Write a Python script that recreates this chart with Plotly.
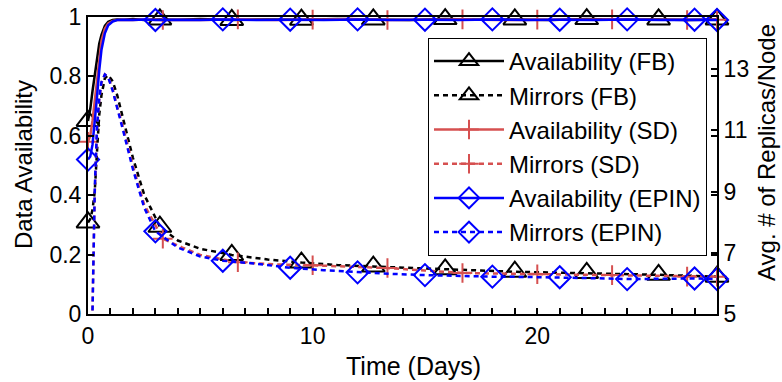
import plotly.graph_objects as go

# ---------------- data ----------------
t_fb = [0, 0.1, 0.2, 0.3, 0.4, 0.5, 0.6, 0.75, 0.9, 1.1, 1.3, 1.6, 2.0, 2.5, 3.2, 4.0,
        5.0, 6.4, 8.0, 9.5, 11.1, 12.7, 14.3, 15.9, 17.5, 19.0, 20.6, 22.2, 23.8, 25.4, 26.7, 28.0]
avail_fb = [0.65, 0.69, 0.75, 0.81, 0.87, 0.91, 0.94, 0.97, 0.984, 0.99, 0.992, 0.991, 0.993, 0.99,
            0.992, 0.991, 0.993, 0.99, 0.992, 0.991, 0.993, 0.992, 0.99, 0.993, 0.991, 0.992,
            0.99, 0.993, 0.991, 0.992, 0.99, 0.992]
mirrors_fb = [7.99, 8.1, 8.4, 9.0, 10.3, 11.5, 12.15, 12.7, 12.8, 12.6, 12.15, 11.3, 10.1, 8.9,
              7.85, 7.4, 7.13, 6.93, 6.78, 6.68, 6.6, 6.55, 6.5, 6.46, 6.42, 6.38, 6.36, 6.34,
              6.31, 6.28, 6.25, 6.22]
mark_fb = [0, 3.2, 6.4, 9.5, 12.7, 15.9, 19.0, 22.2, 25.4, 28.0]

t_sd = [0, 0.1, 0.2, 0.3, 0.4, 0.5, 0.6, 0.75, 0.9, 1.1, 1.3, 1.6, 2.0, 2.5, 3.33, 4.2, 5.0,
        6.67, 8.33, 10.0, 11.67, 13.33, 15.0, 16.67, 18.33, 20.0, 21.67, 23.33, 25.0, 26.67, 28.0]
avail_sd = [0.58, 0.60, 0.65, 0.72, 0.80, 0.87, 0.92, 0.96, 0.978, 0.987, 0.99, 0.991, 0.99,
            0.992, 0.99, 0.991, 0.99, 0.992, 0.99, 0.991, 0.993, 0.99, 0.991, 0.992, 0.99,
            0.991, 0.99, 0.992, 0.991, 0.99, 0.991]
mirrors_sd = [1.0, 3.0, 5.2, 8.9, 11.0, 12.0, 12.55, 12.82, 12.73, 12.34, 11.76, 10.99, 9.83,
              8.57, 7.46, 7.17, 6.93, 6.69, 6.62, 6.59, 6.54, 6.5, 6.42, 6.34, 6.32, 6.3, 6.28,
              6.27, 6.24, 6.22, 6.22]
mark_sd = [0, 3.33, 6.67, 10.0, 13.33, 16.67, 20.0, 23.33, 26.67, 28.0]

t_epin = [0, 0.1, 0.2, 0.3, 0.4, 0.5, 0.6, 0.75, 0.9, 1.1, 1.3, 1.6, 2.0, 2.5, 3.0, 4.0, 5.0,
          6.0, 7.5, 9.0, 10.5, 12.0, 13.5, 15.0, 16.5, 18.0, 19.5, 21.0, 22.5, 24.0, 25.5,
          27.0, 28.0]
avail_epin = [0.52, 0.53, 0.57, 0.64, 0.73, 0.82, 0.89, 0.945, 0.972, 0.985, 0.99, 0.991, 0.99,
              0.992, 0.99, 0.991, 0.99, 0.992, 0.99, 0.991, 0.99, 0.992, 0.99, 0.991, 0.99,
              0.992, 0.99, 0.991, 0.99, 0.992, 0.99, 0.991, 0.99]
mirrors_epin = [1.0, 3.0, 5.0, 9.06, 11.08, 12.05, 12.58, 12.82, 12.73, 12.29, 11.76, 10.89,
                9.73, 8.48, 7.7, 7.17, 6.88, 6.74, 6.64, 6.51, 6.43, 6.36, 6.31, 6.27, 6.24,
                6.22, 6.21, 6.2, 6.17, 6.14, 6.15, 6.16, 6.14]
mark_epin = [0, 3.0, 6.0, 9.0, 12.0, 15.0, 18.0, 21.0, 24.0, 27.0, 28.0]

x_title = "Time (Days)"
y_title = "Data Availability"
y2_title = "Avg. # of Replicas/Node"

# ---------------- styling ----------------
FONT = "Liberation Sans, Arial, Helvetica, sans-serif"
BLACK = "#000000"
RED = "#d65050"
BLUE = "#0000ff"
DOT = "5px,4px"

fig = go.Figure()


def add(t, y, name, color, dash, symbol, msize, marks, yaxis):
    mc = [color if ti in marks else "rgba(0,0,0,0)" for ti in t]
    fig.add_trace(go.Scatter(
        x=t, y=y, name=name, mode="lines+markers", yaxis=yaxis,
        line=dict(color=color, width=2.5, dash=dash),
        marker=dict(symbol=symbol, size=msize, color=mc, line=dict(color=mc, width=2)),
        cliponaxis=False,
    ))


add(t_fb, avail_fb, "Availability (FB)", BLACK, "solid", "triangle-up-open", 20, mark_fb, "y")
add(t_fb, mirrors_fb, "Mirrors (FB)", BLACK, DOT, "triangle-up-open", 20, mark_fb, "y2")
add(t_sd, avail_sd, "Availability (SD)", RED, "solid", "cross-thin-open", 14, mark_sd, "y")
add(t_sd, mirrors_sd, "Mirrors (SD)", RED, DOT, "cross-thin-open", 14, mark_sd, "y2")
add(t_epin, avail_epin, "Availability (EPIN)", BLUE, "solid", "diamond-open", 17, mark_epin, "y")
add(t_epin, mirrors_epin, "Mirrors (EPIN)", BLUE, DOT, "diamond-open", 17, mark_epin, "y2")

L, R, T, B = 88, 65, 17, 68
W, H = 782, 382
pw, ph = W - L - R, H - T - B


def px(xp):
    return (xp - L) / pw


def py(yp):
    return (H - B - yp) / ph


tickfont = dict(family=FONT, size=23, color=BLACK)

fig.update_layout(
    width=W, height=H,
    margin=dict(l=L, r=R, t=T, b=B, pad=0, autoexpand=False),
    paper_bgcolor="white", plot_bgcolor="white",
    font=dict(family=FONT, color=BLACK),
    showlegend=True,
    legend=dict(
        x=px(707), y=py(38), xanchor="right", yanchor="top",
        bgcolor="white", bordercolor=BLACK, borderwidth=1,
        font=dict(family=FONT, size=24, color=BLACK),
        tracegroupgap=0, itemwidth=70,
    ),
    xaxis=dict(
        range=[0, 28], tickmode="linear", tick0=0, dtick=10, automargin=False,
        ticks="inside", ticklen=6, tickwidth=1.5, tickcolor=BLACK,
        minor=dict(dtick=1, tick0=0, ticks="inside", ticklen=6, tickwidth=1.5, tickcolor=BLACK),
        showline=True, linewidth=2, linecolor=BLACK, mirror=True,
        showgrid=False, zeroline=False, tickfont=tickfont,
    ),
    yaxis=dict(
        range=[0, 1], tickmode="linear", tick0=0, dtick=0.2, automargin=False,
        ticks="inside", ticklen=6, tickwidth=1.5, tickcolor=BLACK,
        showline=True, linewidth=2, linecolor=BLACK, mirror="ticks",
        showgrid=False, zeroline=False, tickfont=tickfont,
    ),
    yaxis2=dict(
        range=[5, 14.7], tickmode="linear", tick0=5, dtick=2, automargin=False,
        overlaying="y", side="right", anchor="x",
        ticks="inside", ticklen=6, tickwidth=1.5, tickcolor=BLACK,
        showline=True, linewidth=2, linecolor=BLACK,
        showgrid=False, zeroline=False, tickfont=tickfont,
    ),
    annotations=[
        dict(text=x_title, xref="paper", yref="paper", x=px(413), y=py(366),
             xanchor="center", yanchor="middle", showarrow=False,
             font=dict(family=FONT, size=25, color=BLACK)),
        dict(text=y_title, xref="paper", yref="paper", x=px(23), y=py(165),
             xanchor="center", yanchor="middle", showarrow=False, textangle=-90,
             font=dict(family=FONT, size=24, color=BLACK)),
        dict(text=y2_title, xref="paper", yref="paper", x=px(766), y=py(153),
             xanchor="center", yanchor="middle", showarrow=False, textangle=-90,
             font=dict(family=FONT, size=24, color=BLACK)),
    ],
)

fig.write_html("out.html")
